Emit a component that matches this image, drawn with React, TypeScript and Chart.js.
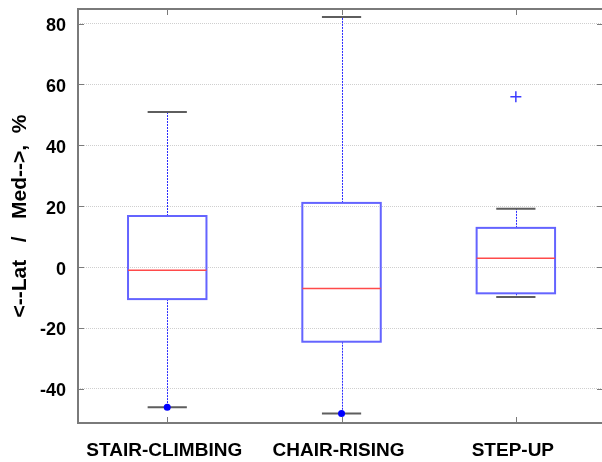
import React, { useEffect, useRef } from 'react';
import { Chart, registerables } from 'chart.js';
Chart.register(...registerables);

const categories = ['STAIR-CLIMBING', 'CHAIR-RISING', 'STEP-UP'];
const whiskerLow = [-46.0, -48.1, -9.8];
const q1 = [-10.5, -24.5, -8.6];
const median = [-1.0, -7.0, 2.9];
const q3 = [16.8, 21.1, 12.9];
const whiskerHigh = [51.0, 82.2, 19.2];
const dotOutliers: (number | null)[] = [-46.0, -48.1, null];
const crossOutliers: (number | null)[] = [null, null, 56.0];
const yTicks = [-40, -20, 0, 20, 40, 60, 80];
const yMin = -51.2;
const yMax = 84.8;
const xMin = 0.488;
const xMax = 3.5;
const yTitle = '<--Lat   /   Med-->,  %';

const FONT = '"Liberation Sans", Arial, Helvetica, sans-serif';

const boxPlugin = {
  id: 'boxes',
  beforeDatasetsDraw(chart: any) {
    const { ctx, scales } = chart;
    const x = scales.x;
    const y = scales.y;
    categories.forEach((_, i) => {
      const pos = i + 1;
      const cx = Math.round(x.getPixelForValue(pos)) + 0.5;
      const bl = x.getPixelForValue(pos - 0.225);
      const br = x.getPixelForValue(pos + 0.225);
      const cl = x.getPixelForValue(pos - 0.1125);
      const cr = x.getPixelForValue(pos + 0.1125);
      const yLo = y.getPixelForValue(whiskerLow[i]);
      const yQ1 = y.getPixelForValue(q1[i]);
      const yMed = y.getPixelForValue(median[i]);
      const yQ3 = y.getPixelForValue(q3[i]);
      const yHi = y.getPixelForValue(whiskerHigh[i]);
      ctx.save();
      // whiskers
      ctx.strokeStyle = '#2a2aff';
      ctx.lineWidth = 1;
      ctx.setLineDash([2, 1]);
      ctx.beginPath();
      ctx.moveTo(cx, yQ3);
      ctx.lineTo(cx, yHi);
      ctx.moveTo(cx, yQ1);
      ctx.lineTo(cx, yLo);
      ctx.stroke();
      ctx.setLineDash([]);
      // caps
      ctx.strokeStyle = '#5e5e5e';
      ctx.lineWidth = 2;
      ctx.beginPath();
      ctx.moveTo(cl, yHi);
      ctx.lineTo(cr, yHi);
      ctx.moveTo(cl, yLo);
      ctx.lineTo(cr, yLo);
      ctx.stroke();
      // box
      ctx.strokeStyle = '#6464ff';
      ctx.lineWidth = 2;
      ctx.strokeRect(bl, yQ3, br - bl, yQ1 - yQ3);
      // median
      ctx.strokeStyle = '#ff4a4a';
      ctx.lineWidth = 1.5;
      ctx.beginPath();
      ctx.moveTo(bl, yMed);
      ctx.lineTo(br, yMed);
      ctx.stroke();
      ctx.restore();
    });
  },
  afterDraw(chart: any) {
    const { ctx, chartArea, scales } = chart;
    const { left, right, top, bottom } = chartArea;
    const x = scales.x;
    const y = scales.y;
    ctx.save();
    ctx.strokeStyle = '#7a7a7a';
    ctx.lineWidth = 2;
    ctx.beginPath();
    ctx.moveTo(left, top);
    ctx.lineTo(right, top);
    ctx.lineTo(right, bottom);
    ctx.lineTo(left, bottom);
    ctx.closePath();
    ctx.stroke();
    ctx.lineWidth = 1;
    ctx.beginPath();
    yTicks.forEach((v) => {
      const py = Math.round(y.getPixelForValue(v)) + 0.5;
      ctx.moveTo(left, py);
      ctx.lineTo(left + 6, py);
      ctx.moveTo(right, py);
      ctx.lineTo(right - 6, py);
    });
    categories.forEach((_, i) => {
      const px = Math.round(x.getPixelForValue(i + 1)) + 0.5;
      ctx.moveTo(px, bottom);
      ctx.lineTo(px, bottom - 6);
      ctx.moveTo(px, top);
      ctx.lineTo(px, top + 6);
    });
    ctx.stroke();
    ctx.restore();
  },
};

export default function App() {
  const ref = useRef<HTMLCanvasElement>(null);
  useEffect(() => {
    const dotData = dotOutliers
      .map((v, i) => (v === null ? null : { x: i + 1, y: v }))
      .filter((p) => p !== null);
    const crossData = crossOutliers
      .map((v, i) => (v === null ? null : { x: i + 1, y: v }))
      .filter((p) => p !== null);
    const chart = new Chart(ref.current!, {
      type: 'scatter',
      data: {
        datasets: [
          {
            data: dotData as any,
            pointStyle: 'circle',
            pointRadius: 3.5,
            backgroundColor: '#0000ff',
            borderColor: '#0000ff',
            borderWidth: 0,
          },
          {
            data: crossData as any,
            pointStyle: 'cross',
            pointRadius: 5.5,
            backgroundColor: '#3c3cff',
            borderColor: '#3c3cff',
            borderWidth: 1.5,
          },
        ],
      },
      options: {
        responsive: false,
        animation: false,
        events: [],
        layout: { padding: { left: 0, right: 4, top: 9, bottom: 0 } },
        plugins: { legend: { display: false }, tooltip: { enabled: false } },
        scales: {
          x: {
            type: 'linear',
            min: xMin,
            max: xMax,
            grid: { display: false, drawTicks: false },
            border: { display: false },
            afterBuildTicks: (s: any) => {
              s.ticks = categories.map((_, i) => ({ value: i + 1 }));
            },
            afterFit: (s: any) => {
              s.height = 39;
              s.paddingLeft = 0;
              s.paddingRight = 0;
            },
            ticks: {
              autoSkip: false,
              maxRotation: 0,
              padding: 16,
              labelOffset: -3,
              color: '#000',
              font: { family: FONT, size: 19, weight: 'bold' },
              callback: (v: any) => categories[Number(v) - 1] ?? '',
            },
          },
          y: {
            type: 'linear',
            min: yMin,
            max: yMax,
            afterBuildTicks: (s: any) => {
              s.ticks = yTicks.map((v) => ({ value: v }));
            },
            afterFit: (s: any) => {
              s.width = 78;
              s.paddingTop = 0;
              s.paddingBottom = 0;
            },
            grid: { color: '#cfcfcf', lineWidth: 1, drawTicks: false },
            border: { display: false, dash: [1, 1] },
            ticks: {
              padding: 12,
              labelOffset: 2.5,
              color: '#000',
              font: { family: FONT, size: 18, weight: 'bold' },
            },
            title: {
              display: true,
              text: yTitle,
              color: '#000',
              padding: { top: 8, bottom: 0 },
              font: { family: FONT, size: 21, weight: 'bold' },
            },
          },
        },
      },
      plugins: [boxPlugin],
    });
    return () => chart.destroy();
  }, []);
  return (
    <div
      style={{
        position: 'fixed',
        left: 0,
        top: 0,
        width: 610,
        height: 462,
        overflow: 'hidden',
        background: '#fff',
      }}
    >
      <canvas ref={ref} width={610} height={462} style={{ display: 'block' }} />
    </div>
  );
}
